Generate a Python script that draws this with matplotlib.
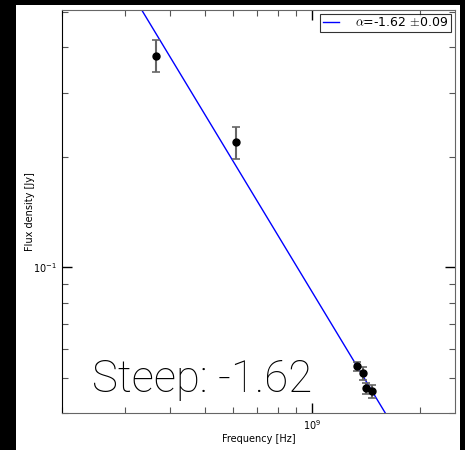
import numpy as np
import matplotlib
matplotlib.use('Agg')
import matplotlib.pyplot as plt
from matplotlib.patches import Rectangle

# measured flux densities
freq = [3.65e8, 6.1e8, 1.335e9, 1.386e9, 1.41e9, 1.47e9]
flux = [0.379, 0.220, 0.0536, 0.0513, 0.0467, 0.0458]
flux_err = [0.038, 0.022, 0.0015, 0.0022, 0.0015, 0.0018]

# power law fit
alpha = -1.62
alpha_err = 0.09
norm = 0.0854  # Jy at 1 GHz

plt.rcParams['mathtext.fontset'] = 'cm'
plt.rcParams['axes.unicode_minus'] = False

fig = plt.figure(figsize=(4.65, 4.5), dpi=100, facecolor='black')
fig.patches.append(Rectangle((16/465., 0), (460-16)/465., (450-5)/450.,
                             transform=fig.transFigure, facecolor='white',
                             edgecolor='none', zorder=-10))
ax = fig.add_axes([62/465., 1-413/450., (455-62)/465., (413-10)/450.])

nu = np.logspace(np.log10(2e8), np.log10(2.5e9), 50)
ax.plot(nu, norm*(nu/1e9)**alpha, color='#0000ff', lw=1,
        label=r'$\alpha$=-1.62 $\pm$0.09')
ax.errorbar(freq, flux, yerr=flux_err, fmt='o', color='black', ms=5,
            ecolor='#666666', elinewidth=1.5, capsize=3, capthick=1.2)

ax.set_xscale('log')
ax.set_yscale('log')
ax.set_xlim(2e8, 2.5e9)
ax.set_ylim(0.04, 0.505)

ax.tick_params(which='both', direction='in', top=True, right=True, labelsize=7)
ax.tick_params(which='major', length=7, width=1)
ax.tick_params(which='minor', length=4, width=0.8, colors='#555555')
ax.minorticks_on()
for s in ['top', 'right', 'bottom']:
    ax.spines[s].set_color('#666666')
ax.spines['left'].set_color('black')
ax.yaxis.set_minor_formatter(plt.NullFormatter())
ax.xaxis.set_minor_formatter(plt.NullFormatter())

ax.set_xlabel('Frequency [Hz]', fontsize=7, labelpad=2)
ax.set_ylabel('Flux density [Jy]', fontsize=7, labelpad=-1)

leg = ax.legend(loc='upper right', fontsize=9, fancybox=False,
                handlelength=1.3, handletextpad=1.3, borderaxespad=0.3,
                borderpad=0.2)
leg.get_frame().set_edgecolor('black')
leg.get_frame().set_linewidth(0.8)

ax.text(0.076, 0.052, 'Steep: -1.62', transform=ax.transAxes, fontsize=31.5,
        family=['Roboto', 'DejaVu Sans'], fontweight='light', color='black')

fig.savefig('out.png', dpi=100, facecolor=fig.get_facecolor())
